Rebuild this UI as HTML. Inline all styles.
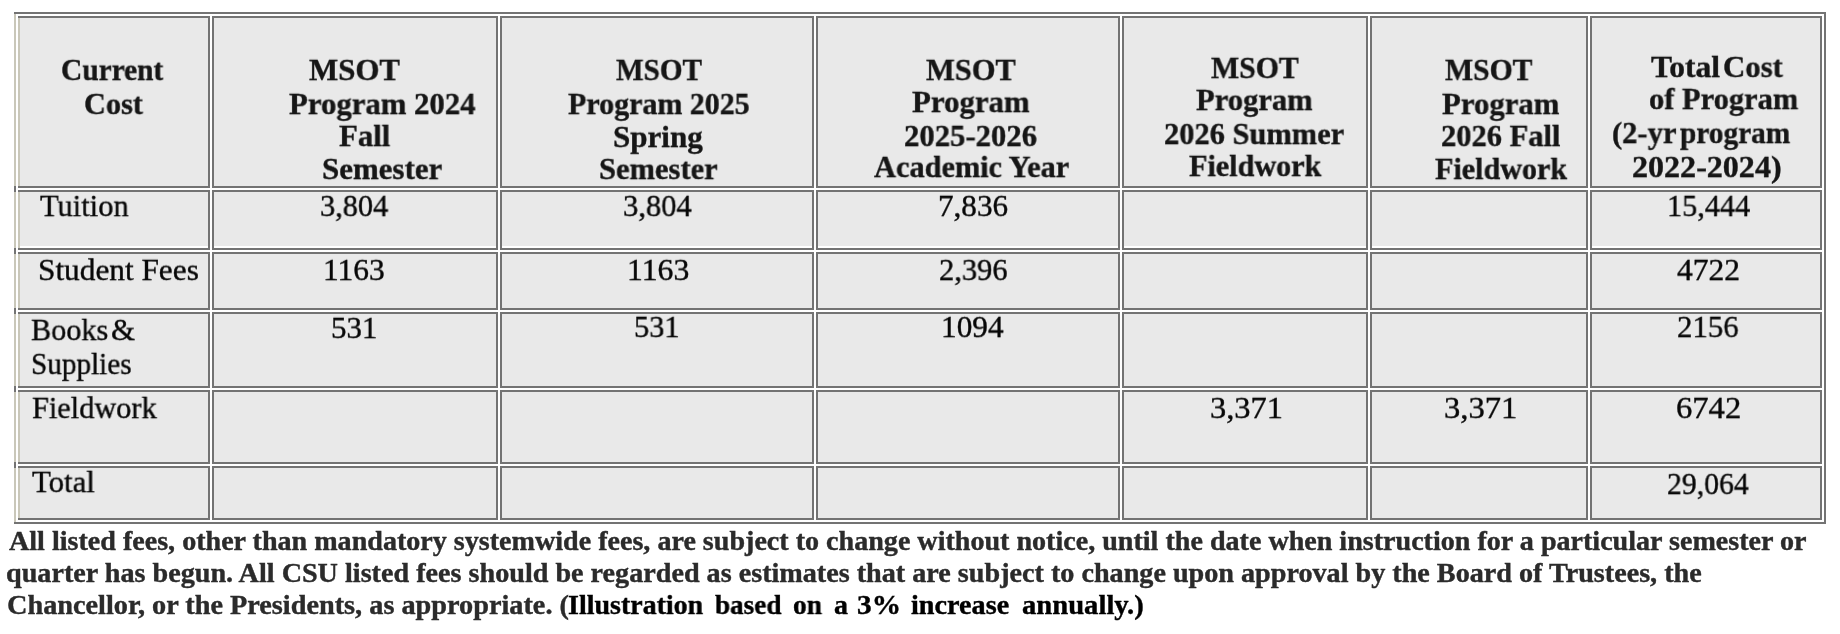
<!DOCTYPE html><html><head><meta charset="utf-8"><style>
html,body{margin:0;padding:0;background:#fff;width:1840px;height:634px;overflow:hidden;position:relative}
.b{position:absolute}
.c{position:absolute;box-sizing:border-box;background:#e9e9e9;border:2px solid #737373;}
.t{position:absolute;will-change:transform;font-family:"Liberation Serif",serif;line-height:1;white-space:pre;transform-origin:0 0}
</style></head><body>

<div class="b" style="left:14px;top:12px;width:1812px;height:2px;background:#737373"></div>
<div class="b" style="left:14px;top:522px;width:1812px;height:2px;background:#737373"></div>
<div class="b" style="left:1824px;top:12px;width:2px;height:512px;background:#737373"></div>
<div class="b" style="left:14px;top:14px;width:2px;height:508px;background:#c9c7b9"></div>
<div class="b" style="left:14px;top:186px;width:2px;height:6px;background:#737373"></div>
<div class="b" style="left:14px;top:248px;width:2px;height:6px;background:#737373"></div>
<div class="b" style="left:14px;top:308px;width:2px;height:6px;background:#737373"></div>
<div class="b" style="left:14px;top:386px;width:2px;height:6px;background:#737373"></div>
<div class="b" style="left:14px;top:462px;width:2px;height:6px;background:#737373"></div>
<div class="c" style="left:18px;top:16px;width:192px;height:172px;border-left-width:0;padding-left:2px"></div>
<div class="b" style="left:18px;top:18px;width:2px;height:168px;background:#c9c7b9"></div>
<div class="c" style="left:212px;top:16px;width:286px;height:172px"></div>
<div class="c" style="left:500px;top:16px;width:314px;height:172px"></div>
<div class="c" style="left:816px;top:16px;width:304px;height:172px"></div>
<div class="c" style="left:1122px;top:16px;width:246px;height:172px"></div>
<div class="c" style="left:1370px;top:16px;width:218px;height:172px"></div>
<div class="c" style="left:1590px;top:16px;width:232px;height:172px"></div>
<div class="c" style="left:18px;top:190px;width:192px;height:60px;border-left-width:0;padding-left:2px;box-shadow:inset 0 -2px 0 #fff"></div>
<div class="b" style="left:18px;top:192px;width:2px;height:56px;background:#c9c7b9"></div>
<div class="c" style="left:212px;top:190px;width:286px;height:60px;box-shadow:inset 0 -2px 0 #fff"></div>
<div class="c" style="left:500px;top:190px;width:314px;height:60px;box-shadow:inset 0 -2px 0 #fff"></div>
<div class="c" style="left:816px;top:190px;width:304px;height:60px;box-shadow:inset 0 -2px 0 #fff"></div>
<div class="c" style="left:1122px;top:190px;width:246px;height:60px;box-shadow:inset 0 -2px 0 #fff"></div>
<div class="c" style="left:1370px;top:190px;width:218px;height:60px;box-shadow:inset 0 -2px 0 #fff"></div>
<div class="c" style="left:1590px;top:190px;width:232px;height:60px;box-shadow:inset 0 -2px 0 #fff"></div>
<div class="c" style="left:18px;top:252px;width:192px;height:58px;border-left-width:0;padding-left:2px"></div>
<div class="b" style="left:18px;top:254px;width:2px;height:54px;background:#c9c7b9"></div>
<div class="c" style="left:212px;top:252px;width:286px;height:58px"></div>
<div class="c" style="left:500px;top:252px;width:314px;height:58px"></div>
<div class="c" style="left:816px;top:252px;width:304px;height:58px"></div>
<div class="c" style="left:1122px;top:252px;width:246px;height:58px"></div>
<div class="c" style="left:1370px;top:252px;width:218px;height:58px"></div>
<div class="c" style="left:1590px;top:252px;width:232px;height:58px"></div>
<div class="c" style="left:18px;top:312px;width:192px;height:76px;border-left-width:0;padding-left:2px"></div>
<div class="b" style="left:18px;top:314px;width:2px;height:72px;background:#c9c7b9"></div>
<div class="c" style="left:212px;top:312px;width:286px;height:76px"></div>
<div class="c" style="left:500px;top:312px;width:314px;height:76px"></div>
<div class="c" style="left:816px;top:312px;width:304px;height:76px"></div>
<div class="c" style="left:1122px;top:312px;width:246px;height:76px"></div>
<div class="c" style="left:1370px;top:312px;width:218px;height:76px"></div>
<div class="c" style="left:1590px;top:312px;width:232px;height:76px"></div>
<div class="c" style="left:18px;top:390px;width:192px;height:74px;border-left-width:0;padding-left:2px"></div>
<div class="b" style="left:18px;top:392px;width:2px;height:70px;background:#c9c7b9"></div>
<div class="c" style="left:212px;top:390px;width:286px;height:74px"></div>
<div class="c" style="left:500px;top:390px;width:314px;height:74px"></div>
<div class="c" style="left:816px;top:390px;width:304px;height:74px"></div>
<div class="c" style="left:1122px;top:390px;width:246px;height:74px"></div>
<div class="c" style="left:1370px;top:390px;width:218px;height:74px"></div>
<div class="c" style="left:1590px;top:390px;width:232px;height:74px"></div>
<div class="c" style="left:18px;top:466px;width:192px;height:54px;border-left-width:0;padding-left:2px"></div>
<div class="b" style="left:18px;top:468px;width:2px;height:50px;background:#c9c7b9"></div>
<div class="c" style="left:212px;top:466px;width:286px;height:54px"></div>
<div class="c" style="left:500px;top:466px;width:314px;height:54px"></div>
<div class="c" style="left:816px;top:466px;width:304px;height:54px"></div>
<div class="c" style="left:1122px;top:466px;width:246px;height:54px"></div>
<div class="c" style="left:1370px;top:466px;width:218px;height:54px"></div>
<div class="c" style="left:1590px;top:466px;width:232px;height:54px"></div>
<div class="t" style="left:60.84px;top:55px;font-size:31px;font-weight:bold;color:#161616;-webkit-text-stroke:0.4px #161616;transform:scale(0.9479,0.965)">Current</div>
<div class="t" style="left:84.49px;top:89px;font-size:31px;font-weight:bold;color:#161616;-webkit-text-stroke:0.4px #161616;transform:scale(0.9754,0.965)">Cost</div>
<div class="t" style="left:308.76px;top:55px;font-size:31px;font-weight:bold;color:#161616;-webkit-text-stroke:0.4px #161616;transform:scale(0.9972,0.965)">MSOT</div>
<div class="t" style="left:288.77px;top:89px;font-size:31px;font-weight:bold;color:#161616;-webkit-text-stroke:0.4px #161616;transform:scale(0.9921,0.965)">Program 2024</div>
<div class="t" style="left:339.07px;top:121px;font-size:31px;font-weight:bold;color:#161616;-webkit-text-stroke:0.4px #161616;transform:scale(0.9913,0.965)">Fall</div>
<div class="t" style="left:322.04px;top:154px;font-size:31px;font-weight:bold;color:#161616;-webkit-text-stroke:0.4px #161616;transform:scale(0.9978,0.965)">Semester</div>
<div class="t" style="left:615.79px;top:55px;font-size:31px;font-weight:bold;color:#161616;-webkit-text-stroke:0.4px #161616;transform:scale(0.9429,0.965)">MSOT</div>
<div class="t" style="left:568.28px;top:89px;font-size:31px;font-weight:bold;color:#161616;-webkit-text-stroke:0.4px #161616;transform:scale(0.9664,0.965)">Program 2025</div>
<div class="t" style="left:613.14px;top:122px;font-size:31px;font-weight:bold;color:#161616;-webkit-text-stroke:0.4px #161616;transform:scale(1.0011,0.965)">Spring</div>
<div class="t" style="left:599.17px;top:154px;font-size:31px;font-weight:bold;color:#161616;-webkit-text-stroke:0.4px #161616;transform:scale(0.9851,0.965)">Semester</div>
<div class="t" style="left:925.72px;top:55px;font-size:31px;font-weight:bold;color:#161616;-webkit-text-stroke:0.4px #161616;transform:scale(0.9845,0.965)">MSOT</div>
<div class="t" style="left:912.47px;top:87px;font-size:31px;font-weight:bold;color:#161616;-webkit-text-stroke:0.4px #161616;transform:scale(0.9937,0.965)">Program</div>
<div class="t" style="left:904.20px;top:121px;font-size:31px;font-weight:bold;color:#161616;-webkit-text-stroke:0.4px #161616;transform:scale(0.9907,0.965)">2025-2026</div>
<div class="t" style="left:874.19px;top:152px;font-size:31px;font-weight:bold;color:#161616;-webkit-text-stroke:0.4px #161616;transform:scale(0.9785,0.965)">Academic Year</div>
<div class="t" style="left:1210.73px;top:53px;font-size:31px;font-weight:bold;color:#161616;-webkit-text-stroke:0.4px #161616;transform:scale(0.9623,0.965)">MSOT</div>
<div class="t" style="left:1196.47px;top:85px;font-size:31px;font-weight:bold;color:#161616;-webkit-text-stroke:0.4px #161616;transform:scale(0.9852,0.965)">Program</div>
<div class="t" style="left:1164.21px;top:119px;font-size:31px;font-weight:bold;color:#161616;-webkit-text-stroke:0.4px #161616;transform:scale(0.9820,0.965)">2026 Summer</div>
<div class="t" style="left:1188.98px;top:151px;font-size:31px;font-weight:bold;color:#161616;-webkit-text-stroke:0.4px #161616;transform:scale(0.9730,0.965)">Fieldwork</div>
<div class="t" style="left:1444.98px;top:55px;font-size:31px;font-weight:bold;color:#161616;-webkit-text-stroke:0.4px #161616;transform:scale(0.9595,0.965)">MSOT</div>
<div class="t" style="left:1441.97px;top:89px;font-size:31px;font-weight:bold;color:#161616;-webkit-text-stroke:0.4px #161616;transform:scale(0.9916,0.965)">Program</div>
<div class="t" style="left:1441.21px;top:121px;font-size:31px;font-weight:bold;color:#161616;-webkit-text-stroke:0.4px #161616;transform:scale(0.9833,0.965)">2026 Fall</div>
<div class="t" style="left:1434.98px;top:154px;font-size:31px;font-weight:bold;color:#161616;-webkit-text-stroke:0.4px #161616;transform:scale(0.9712,0.965)">Fieldwork</div>
<div class="t" style="left:1650.70px;top:52px;font-size:31px;font-weight:bold;color:#161616;-webkit-text-stroke:0.4px #161616;transform:scale(1.0175,0.965)">Total</div>
<div class="t" style="left:1722.57px;top:52px;font-size:31px;font-weight:bold;color:#161616;-webkit-text-stroke:0.4px #161616;transform:scale(0.9907,0.965)">Cost</div>
<div class="t" style="left:1649.29px;top:84px;font-size:31px;font-weight:bold;color:#161616;-webkit-text-stroke:0.4px #161616;transform:scale(0.9829,0.965)">of Program</div>
<div class="t" style="left:1612.33px;top:118px;font-size:31px;font-weight:bold;color:#161616;-webkit-text-stroke:0.4px #161616;transform:scale(0.9853,0.965)">(2-yr</div>
<div class="t" style="left:1680.22px;top:118px;font-size:31px;font-weight:bold;color:#161616;-webkit-text-stroke:0.4px #161616;transform:scale(0.9451,0.965)">program</div>
<div class="t" style="left:1632.39px;top:152px;font-size:31px;font-weight:bold;color:#161616;-webkit-text-stroke:0.4px #161616;transform:scale(1.0343,0.965)">2022-2024)</div>
<div class="t" style="left:39.94px;top:191px;font-size:31px;font-weight:normal;color:#080808;-webkit-text-stroke:0.4px #080808;transform:scale(0.9827,0.965)">Tuition</div>
<div class="t" style="left:319.77px;top:191px;font-size:31px;font-weight:normal;color:#080808;-webkit-text-stroke:0.4px #080808;transform:scale(0.9779,0.965)">3,804</div>
<div class="t" style="left:623.00px;top:191px;font-size:31px;font-weight:normal;color:#080808;-webkit-text-stroke:0.4px #080808;transform:scale(0.9853,0.965)">3,804</div>
<div class="t" style="left:937.93px;top:191px;font-size:31px;font-weight:normal;color:#080808;-webkit-text-stroke:0.4px #080808;transform:scale(1.0049,0.965)">7,836</div>
<div class="t" style="left:1666.78px;top:191px;font-size:31px;font-weight:normal;color:#080808;-webkit-text-stroke:0.4px #080808;transform:scale(0.9761,0.965)">15,444</div>
<div class="t" style="left:38.35px;top:255px;font-size:31px;font-weight:normal;color:#080808;-webkit-text-stroke:0.4px #080808;transform:scale(1.0095,0.965)">Student Fees</div>
<div class="t" style="left:323.42px;top:255px;font-size:31px;font-weight:normal;color:#080808;-webkit-text-stroke:0.4px #080808;transform:scale(1.0146,0.965)">1163</div>
<div class="t" style="left:626.65px;top:255px;font-size:31px;font-weight:normal;color:#080808;-webkit-text-stroke:0.4px #080808;transform:scale(1.0235,0.965)">1163</div>
<div class="t" style="left:938.65px;top:255px;font-size:31px;font-weight:normal;color:#080808;-webkit-text-stroke:0.4px #080808;transform:scale(0.9835,0.965)">2,396</div>
<div class="t" style="left:1677.37px;top:255px;font-size:31px;font-weight:normal;color:#080808;-webkit-text-stroke:0.4px #080808;transform:scale(1.0180,0.965)">4722</div>
<div class="t" style="left:31.11px;top:315px;font-size:31px;font-weight:normal;color:#080808;-webkit-text-stroke:0.4px #080808;transform:scale(0.9736,0.965)">Books</div>
<div class="t" style="left:111.44px;top:315px;font-size:31px;font-weight:normal;color:#080808;-webkit-text-stroke:0.4px #080808;transform:scale(0.9968,0.965)">&amp;</div>
<div class="t" style="left:330.65px;top:313px;font-size:31px;font-weight:normal;color:#080808;-webkit-text-stroke:0.4px #080808;transform:scale(0.9968,0.965)">531</div>
<div class="t" style="left:634.44px;top:312px;font-size:31px;font-weight:normal;color:#080808;-webkit-text-stroke:0.4px #080808;transform:scale(0.9792,0.965)">531</div>
<div class="t" style="left:940.94px;top:312px;font-size:31px;font-weight:normal;color:#080808;-webkit-text-stroke:0.4px #080808;transform:scale(1.0091,0.965)">1094</div>
<div class="t" style="left:1677.39px;top:312px;font-size:31px;font-weight:normal;color:#080808;-webkit-text-stroke:0.4px #080808;transform:scale(0.9937,0.965)">2156</div>
<div class="t" style="left:30.99px;top:349px;font-size:31px;font-weight:normal;color:#080808;-webkit-text-stroke:0.4px #080808;transform:scale(0.9419,0.965)">Supplies</div>
<div class="t" style="left:31.60px;top:393px;font-size:31px;font-weight:normal;color:#080808;-webkit-text-stroke:0.4px #080808;transform:scale(0.9785,0.965)">Fieldwork</div>
<div class="t" style="left:1210.41px;top:393px;font-size:31px;font-weight:normal;color:#080808;-webkit-text-stroke:0.4px #080808;transform:scale(1.0466,0.965)">3,371</div>
<div class="t" style="left:1443.91px;top:393px;font-size:31px;font-weight:normal;color:#080808;-webkit-text-stroke:0.4px #080808;transform:scale(1.0503,0.965)">3,371</div>
<div class="t" style="left:1676.07px;top:393px;font-size:31px;font-weight:normal;color:#080808;-webkit-text-stroke:0.4px #080808;transform:scale(1.0520,0.965)">6742</div>
<div class="t" style="left:32.44px;top:467px;font-size:31px;font-weight:normal;color:#080808;-webkit-text-stroke:0.4px #080808;transform:scale(0.9919,0.965)">Total</div>
<div class="t" style="left:1667.43px;top:469px;font-size:31px;font-weight:normal;color:#080808;-webkit-text-stroke:0.4px #080808;transform:scale(0.9595,0.965)">29,064</div>
<div class="t" style="left:9.20px;top:527px;font-size:28px;font-weight:bold;color:#2b2b2b;-webkit-text-stroke:0.4px #2b2b2b;transform:scale(1.0029,1.0)">All listed fees, other than mandatory systemwide fees, are subject to change without notice, until the date when instruction for a particular semester or</div>
<div class="t" style="left:6.29px;top:559px;font-size:28px;font-weight:bold;color:#2b2b2b;-webkit-text-stroke:0.4px #2b2b2b;transform:scale(1.0056,1.0)">quarter has begun. All CSU listed fees should be regarded as estimates that are subject to change upon approval by the Board of Trustees, the</div>
<div class="t" style="left:6.54px;top:591px;font-size:28px;font-weight:bold;color:#2b2b2b;-webkit-text-stroke:0.4px #2b2b2b;transform:scale(1.0096,1.0)">Chancellor, or the Presidents, as appropriate. (</div>
<div class="t" style="left:567.81px;top:591px;font-size:28px;font-weight:bold;color:#000;-webkit-text-stroke:0.4px #000;transform:scale(0.9985,1.0)">Illustration</div>
<div class="t" style="left:715.06px;top:591px;font-size:28px;font-weight:bold;color:#000;-webkit-text-stroke:0.4px #000;transform:scale(0.9697,1.0)">based</div>
<div class="t" style="left:793.42px;top:591px;font-size:28px;font-weight:bold;color:#000;-webkit-text-stroke:0.4px #000;transform:scale(0.9802,1.0)">on</div>
<div class="t" style="left:833.54px;top:591px;font-size:28px;font-weight:bold;color:#000;-webkit-text-stroke:0.4px #000;transform:scale(0.9921,1.0)">a</div>
<div class="t" style="left:856.87px;top:591px;font-size:28px;font-weight:bold;color:#000;-webkit-text-stroke:0.4px #000;transform:scale(1.0465,1.0)">3%</div>
<div class="t" style="left:911.38px;top:591px;font-size:28px;font-weight:bold;color:#000;-webkit-text-stroke:0.4px #000;transform:scale(1.0072,1.0)">increase</div>
<div class="t" style="left:1021.51px;top:591px;font-size:28px;font-weight:bold;color:#000;-webkit-text-stroke:0.4px #000;transform:scale(1.0229,1.0)">annually.)</div>
</body></html>
